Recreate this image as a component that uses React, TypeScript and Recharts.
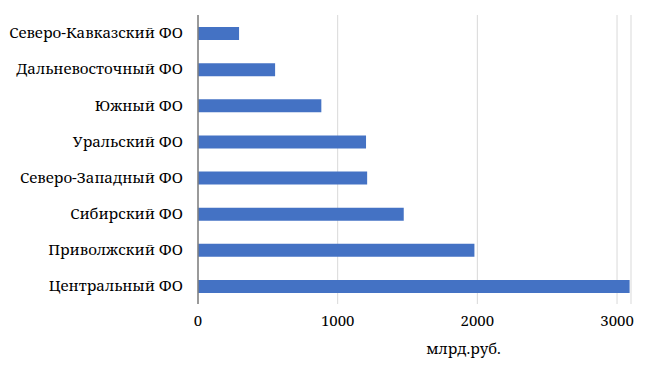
import React from 'react';
import { BarChart, Bar, XAxis, YAxis, CartesianGrid } from 'recharts';

const categories = [
  'Северо-Кавказский ФО',
  'Дальневосточный ФО',
  'Южный ФО',
  'Уральский ФО',
  'Северо-Западный ФО',
  'Сибирский ФО',
  'Приволжский ФО',
  'Центральный ФО',
];
const values = [294, 552, 883, 1203, 1211, 1473, 1979, 3090];
const xTicks = [0, 1000, 2000, 3000];
const axisTitle = 'млрд.руб.';

const data = categories.map((name, i) => ({ name, value: values[i] }));

const serifFont = 'Noto Serif';

const YTick = (props: any) => {
  const { x, y, payload } = props;
  return (
    <text x={x} y={y} dy="0.35em" textAnchor="end" fill="#000" style={{ fontFamily: serifFont, fontSize: 15.1 }}>
      {payload.value}
    </text>
  );
};

const XTick = (props: any) => {
  const { x, y, payload } = props;
  return (
    <text x={x} y={y} dy="0.75em" textAnchor="middle" fill="#000" style={{ fontFamily: serifFont, fontSize: 15 }}>
      {payload.value}
    </text>
  );
};

export default function App() {
  return (
    <div style={{ position: 'absolute', left: 0, top: 0, background: '#fff' }}>
      <BarChart
        width={663}
        height={374}
        data={data}
        layout="vertical"
        margin={{ top: 15, right: 32, bottom: 40, left: 0 }}
      >
        <CartesianGrid horizontal={false} vertical={true} stroke="#d9d9d9" />
        <XAxis
          type="number"
          domain={[0, 3100]}
          ticks={xTicks}
          axisLine={false}
          tickLine={false}
          height={30}
          tickMargin={5}
          tick={<XTick />}
          label={{ value: axisTitle, position: 'bottom', dx: 49, dy: 4, fill: '#000', style: { fontFamily: serifFont, fontSize: 15 } }}
          allowDataOverflow
        />
        <YAxis
          type="category"
          dataKey="name"
          width={198}
          axisLine={{ stroke: '#7f7f7f', strokeWidth: 1.5 }}
          tickLine={false}
          tickMargin={9}
          interval={0}
          tick={<YTick />}
        />
        <Bar dataKey="value" fill="#4472C4" barSize={13} isAnimationActive={false} />
      </BarChart>
    </div>
  );
}
